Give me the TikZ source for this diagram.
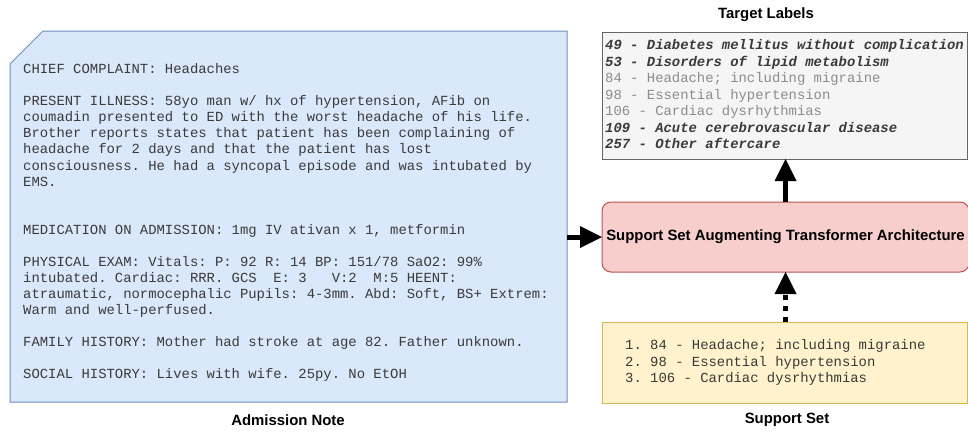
\documentclass[tikz,border=0pt]{standalone}
\usepackage{fontspec}
\setmainfont{Liberation Sans}
\setmonofont{Liberation Mono}
\usetikzlibrary{arrows.meta}

\definecolor{noteFill}{HTML}{DAE8FC}
\definecolor{noteLine}{HTML}{6C8EBF}
\definecolor{archFill}{HTML}{F8CECC}
\definecolor{archLine}{HTML}{B85450}
\definecolor{tgtFill}{HTML}{F5F5F5}
\definecolor{tgtLine}{HTML}{666666}
\definecolor{supFill}{HTML}{FFF2CC}
\definecolor{supLine}{HTML}{D6B656}
\definecolor{codeInk}{HTML}{3A3A3A}
\definecolor{fadedInk}{HTML}{8C8C8C}

\newcommand\notefont{\ttfamily\fontsize{13.9}{16.05}\selectfont\frenchspacing}
\newcommand\listfont{\ttfamily\fontsize{13.9}{16.5}\selectfont\frenchspacing}
\newcommand\titlefont{\bfseries\fontsize{14.9}{17}\selectfont}

\begin{document}
\begin{tikzpicture}[x=1pt,y=-1pt,
  box/.style={rectangle,inner sep=0pt,outer sep=0pt,line width=1pt},
  titletext/.style={font=\titlefont,inner sep=0pt},
  monotext/.style={align=left,anchor=north west,inner sep=0pt,text=codeInk},
  bigarrow/.style={line width=5pt,-{Triangle[length=22pt,width=22pt,line width=0pt]}},
  dotted shaft/.style={dash pattern=on 5pt off 6pt},
]
\useasboundingbox (0,0) rectangle (968,432);

% admission note: a card with the top-left corner cut off
\node[box,minimum width=557pt,minimum height=371pt] (note) at (288.5,216.5) {};
\path[fill=noteFill,draw=noteLine,line width=1pt]
  ([yshift=-33pt]note.north west) -- ([xshift=33pt]note.north west)
  -- (note.north east) -- (note.south east) -- (note.south west) -- cycle;
\node[monotext,font=\notefont] (notetext) at (23,62.3) {\strut CHIEF COMPLAINT: Headaches\\
\\
PRESENT ILLNESS: 58yo man w/ hx of hypertension, AFib on\\
coumadin presented to ED with the worst headache of his life.\\
Brother reports states that patient has been complaining of\\
headache for 2 days and that the patient has lost\\
consciousness. He had a syncopal episode and was intubated by\\
EMS.\\
\\
\\
MEDICATION ON ADMISSION: 1mg IV ativan x 1, metformin\\
\\
PHYSICAL EXAM: Vitals: P: 92 R: 14 BP: 151/78 SaO2: 99\%\\
intubated. Cardiac: RRR. GCS~ E: 3~~ V:2~ M:5 HEENT:\\
atraumatic, normocephalic Pupils: 4-3mm. Abd: Soft, BS+ Extrem:\\
Warm and well-perfused.\\
\\
FAMILY HISTORY: Mother had stroke at age 82. Father unknown.\\
\\
SOCIAL HISTORY: Lives with wife. 25py. No EtOH};
\node[titletext] (notetitle) at (288,420) {Admission Note};

% model
\node[box,rounded corners=9pt,fill=archFill,draw=archLine,
  minimum width=367pt,minimum height=70pt,font=\titlefont] (arch) at (785.5,237)
  {Support Set Augmenting Transformer Architecture};

% predicted labels
\node[box,fill=tgtFill,draw=tgtLine,minimum width=365pt,minimum height=127pt] (tgt) at (784.5,95.5) {};
\node[monotext,font=\listfont] (tgtlist) at (605,37.95) {\strut
{\bfseries\itshape 49 - Diabetes mellitus without complication}\\
{\bfseries\itshape 53 - Disorders of lipid metabolism}\\
\textcolor{fadedInk}{84 - Headache; including migraine}\\
\textcolor{fadedInk}{98 - Essential hypertension}\\
\textcolor{fadedInk}{106 - Cardiac dysrhythmias}\\
{\bfseries\itshape 109 - Acute cerebrovascular disease}\\
{\bfseries\itshape 257 - Other aftercare}};
\node[titletext] (tgttitle) at (766,15) {Target Labels};

% retrieved support set
\node[box,fill=supFill,draw=supLine,minimum width=365pt,minimum height=81pt] (supp) at (784.5,362.5) {};
\node[monotext,font=\listfont] (supplist) at (625,337.95) {\strut
1. 84 - Headache; including migraine\\
2. 98 - Essential hypertension\\
3. 106 - Cardiac dysrhythmias};
\node[titletext] (supptitle) at (787,420) {Support Set};

% connectors
\draw[bigarrow] (note.east |- arch.west) -- (arch.west);
\draw[bigarrow] (arch.north) -- (arch.north |- tgt.south);
\draw[bigarrow,dotted shaft] (arch.south |- supp.north) -- (arch.south);
\end{tikzpicture}
\end{document}
